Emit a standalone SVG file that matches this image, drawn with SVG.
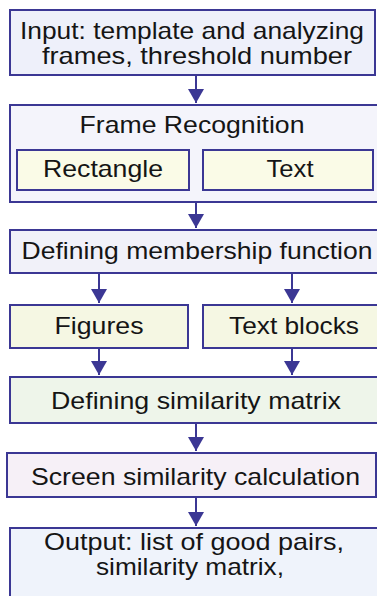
<svg xmlns="http://www.w3.org/2000/svg" width="377" height="596" viewBox="0 0 377 596">
  <style>
    .box { stroke: #3b3794; stroke-width: 2; }
    .lbl { font-family: "Liberation Sans", Arial, sans-serif; font-size: 24px; fill: #151515; text-anchor: middle; }
    .wire { stroke: #3b3794; stroke-width: 2; fill: none; }
  </style>
  <defs>
    <marker id="head" viewBox="0 0 14 16" refX="14" refY="8" markerWidth="14" markerHeight="16" markerUnits="userSpaceOnUse" orient="auto">
      <path d="M0,0 L14,8 L0,16 Z" fill="#3b3794"/>
    </marker>
  </defs>
  <rect width="377" height="596" fill="#ffffff"/>

  <g id="input">
    <rect class="box" x="10" y="10" width="365" height="65" fill="#eef0fa"/>
    <text class="lbl" x="192" y="39" textLength="344" lengthAdjust="spacingAndGlyphs">Input: template and analyzing</text>
    <text class="lbl" x="197" y="64" textLength="310" lengthAdjust="spacingAndGlyphs">frames, threshold number</text>
  </g>

  <g id="frame-recognition">
    <rect class="box" x="10" y="105" width="372" height="97" fill="#f4f4fb"/>
    <text class="lbl" x="192" y="133" textLength="225" lengthAdjust="spacingAndGlyphs">Frame Recognition</text>
  </g>
  <g id="rectangle">
    <rect class="box" x="17" y="150" width="172" height="40" fill="#fafbe7"/>
    <text class="lbl" x="103" y="177" textLength="120" lengthAdjust="spacingAndGlyphs">Rectangle</text>
  </g>
  <g id="text">
    <rect class="box" x="203" y="150" width="170" height="40" fill="#fafbe7"/>
    <text class="lbl" x="290" y="177" textLength="47" lengthAdjust="spacingAndGlyphs">Text</text>
  </g>

  <g id="membership">
    <rect class="box" x="10" y="230" width="372" height="43" fill="#f1f1f9"/>
    <text class="lbl" x="197" y="259" textLength="351" lengthAdjust="spacingAndGlyphs">Defining membership function</text>
  </g>

  <g id="figures">
    <rect class="box" x="10" y="305" width="178" height="43" fill="#f5f7e3"/>
    <text class="lbl" x="99" y="334" textLength="89" lengthAdjust="spacingAndGlyphs">Figures</text>
  </g>
  <g id="text-blocks">
    <rect class="box" x="203" y="305" width="179" height="43" fill="#f5f7e3"/>
    <text class="lbl" x="294" y="334" textLength="130" lengthAdjust="spacingAndGlyphs">Text blocks</text>
  </g>

  <g id="similarity-matrix">
    <rect class="box" x="10" y="377" width="372" height="46" fill="#eef5ea"/>
    <text class="lbl" x="196" y="409" textLength="290" lengthAdjust="spacingAndGlyphs">Defining similarity matrix</text>
  </g>

  <g id="screen-similarity">
    <rect class="box" x="7" y="453" width="369" height="44" fill="#f6f0f7"/>
    <text class="lbl" x="195.5" y="485" textLength="329" lengthAdjust="spacingAndGlyphs">Screen similarity calculation</text>
  </g>

  <g id="output">
    <rect class="box" x="10" y="528" width="372" height="80" fill="#eff3fb"/>
    <text class="lbl" x="194" y="550" textLength="300" lengthAdjust="spacingAndGlyphs">Output: list of good pairs,</text>
    <text class="lbl" x="190" y="575" textLength="188" lengthAdjust="spacingAndGlyphs">similarity matrix,</text>
  </g>

  <g id="connectors">
    <line class="wire" x1="196" y1="75" x2="196" y2="103" marker-end="url(#head)"/>
    <line class="wire" x1="196" y1="202" x2="196" y2="228" marker-end="url(#head)"/>
    <line class="wire" x1="99" y1="273" x2="99" y2="303" marker-end="url(#head)"/>
    <line class="wire" x1="292" y1="273" x2="292" y2="303" marker-end="url(#head)"/>
    <line class="wire" x1="99" y1="348" x2="99" y2="375" marker-end="url(#head)"/>
    <line class="wire" x1="292" y1="348" x2="292" y2="375" marker-end="url(#head)"/>
    <line class="wire" x1="196" y1="423" x2="196" y2="451" marker-end="url(#head)"/>
    <line class="wire" x1="196" y1="497" x2="196" y2="526" marker-end="url(#head)"/>
  </g>
</svg>
